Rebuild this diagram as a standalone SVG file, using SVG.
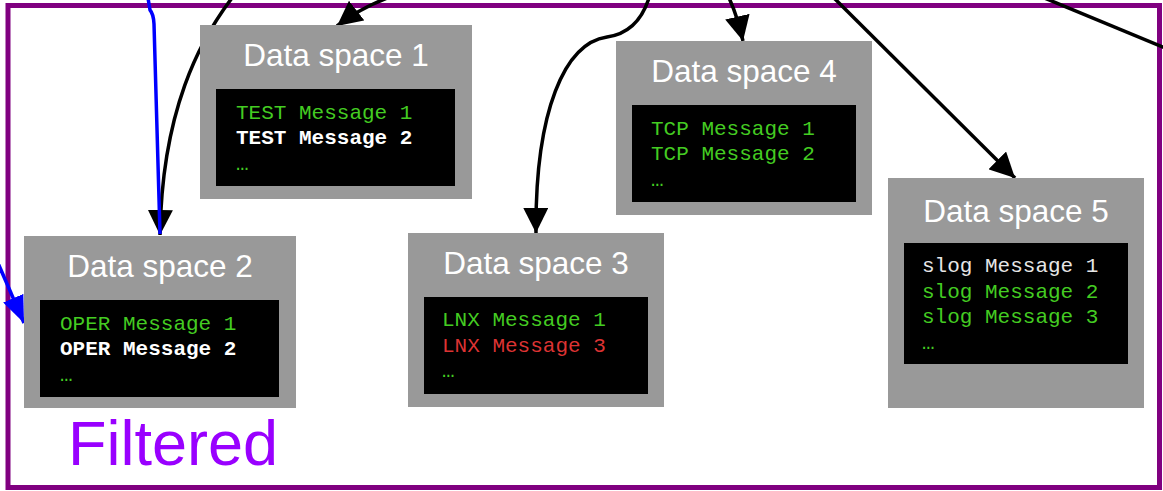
<svg xmlns="http://www.w3.org/2000/svg" width="1163" height="491" viewBox="0 0 1163 491">
  <defs>
    <marker id="ahBlack" markerUnits="userSpaceOnUse" markerWidth="26" markerHeight="25" refX="25" refY="12.5" orient="auto">
      <path d="M0,0 L25,12.5 L0,25 z" fill="#000"/>
    </marker>
    <marker id="ahBlue" markerUnits="userSpaceOnUse" markerWidth="28" markerHeight="22" refX="27" refY="11" orient="auto">
      <path d="M0,0 L27,11 L0,22 z" fill="#0000ff"/>
    </marker>
    <style>
      .box { fill: #999999; }
      .term { fill: #000000; }
      .title { font-family: "Liberation Sans", Arial, sans-serif; font-size: 31.5px; fill: #ffffff; text-anchor: middle; }
      .msg { font-family: "Liberation Mono", "Courier New", monospace; font-size: 21px; }
      .g { fill: #44cc22; }
      .w { fill: #ffffff; font-weight: bold; }
      .lw { fill: #e6e6e6; }
      .r { fill: #dd3333; }
      .conn { fill: none; stroke: #000; stroke-width: 3.5; }
      .blue { fill: none; stroke: #0000ff; stroke-width: 3.5; }
    </style>
  </defs>

  <rect x="0" y="0" width="1163" height="491" fill="#ffffff"/>

  <g id="frame">
    <rect x="8" y="5.5" width="1151.5" height="482" fill="none" stroke="#800080" stroke-width="5"/>
    <text x="68" y="465" font-family="Liberation Sans, Arial, sans-serif" font-size="63" fill="#9900ff">Filtered</text>
  </g>

  <g id="connectors">
    <path class="blue" d="M-2.5,262 L24,323" marker-end="url(#ahBlue)"/>
    <path class="conn" d="M232,-2 C200,40 162,110 160,235" marker-end="url(#ahBlack)"/>
    <path class="blue" d="M148,-2 L150,10 Q153.5,14 154,24 L160,234"/>
    <path class="conn" d="M390,-3 Q360,8 337,26" marker-end="url(#ahBlack)"/>
    <path class="conn" d="M649,-2 C642,20 628,34 607,37 C565,43 535,110 536,233" marker-end="url(#ahBlack)"/>
    <path class="conn" d="M729,-2 Q737,15 743,41" marker-end="url(#ahBlack)"/>
    <path class="conn" d="M834,-2 L1015,178" marker-end="url(#ahBlack)"/>
    <path class="conn" d="M1042,-3 L1170,50"/>
  </g>

  <g id="ds1">
    <rect class="box" x="200" y="25" width="272" height="174"/>
    <text class="title" x="336" y="66">Data space 1</text>
    <rect class="term" x="216" y="89" width="239" height="97"/>
    <text class="msg g" x="236" y="118.5">TEST Message 1</text>
    <text class="msg w" x="236" y="144">TEST Message 2</text>
    <text class="msg g" x="236" y="169.5">…</text>
  </g>

  <g id="ds2">
    <rect class="box" x="24" y="236" width="272" height="172"/>
    <text class="title" x="160" y="277">Data space 2</text>
    <rect class="term" x="40" y="300" width="239" height="97"/>
    <text class="msg g" x="60" y="329.5">OPER Message 1</text>
    <text class="msg w" x="60" y="355">OPER Message 2</text>
    <text class="msg g" x="60" y="380.5">…</text>
  </g>

  <g id="ds3">
    <rect class="box" x="408" y="233" width="256" height="174"/>
    <text class="title" x="536" y="273.5">Data space 3</text>
    <rect class="term" x="424" y="297" width="224" height="97"/>
    <text class="msg g" x="442" y="326">LNX Message 1</text>
    <text class="msg r" x="442" y="351.5">LNX Message 3</text>
    <text class="msg g" x="442" y="377">…</text>
  </g>

  <g id="ds4">
    <rect class="box" x="616" y="41" width="256" height="174"/>
    <text class="title" x="744" y="81.5">Data space 4</text>
    <rect class="term" x="632" y="105" width="224" height="97"/>
    <text class="msg g" x="651" y="134.5">TCP Message 1</text>
    <text class="msg g" x="651" y="160">TCP Message 2</text>
    <text class="msg g" x="651" y="185.5">…</text>
  </g>

  <g id="ds5">
    <rect class="box" x="888" y="178" width="256" height="230"/>
    <text class="title" x="1016" y="221.5">Data space 5</text>
    <rect class="term" x="904" y="243" width="224" height="121"/>
    <text class="msg lw" x="922" y="272">slog Message 1</text>
    <text class="msg g" x="922" y="297.5">slog Message 2</text>
    <text class="msg g" x="922" y="323">slog Message 3</text>
    <text class="msg g" x="922" y="348.5">…</text>
  </g>
</svg>
